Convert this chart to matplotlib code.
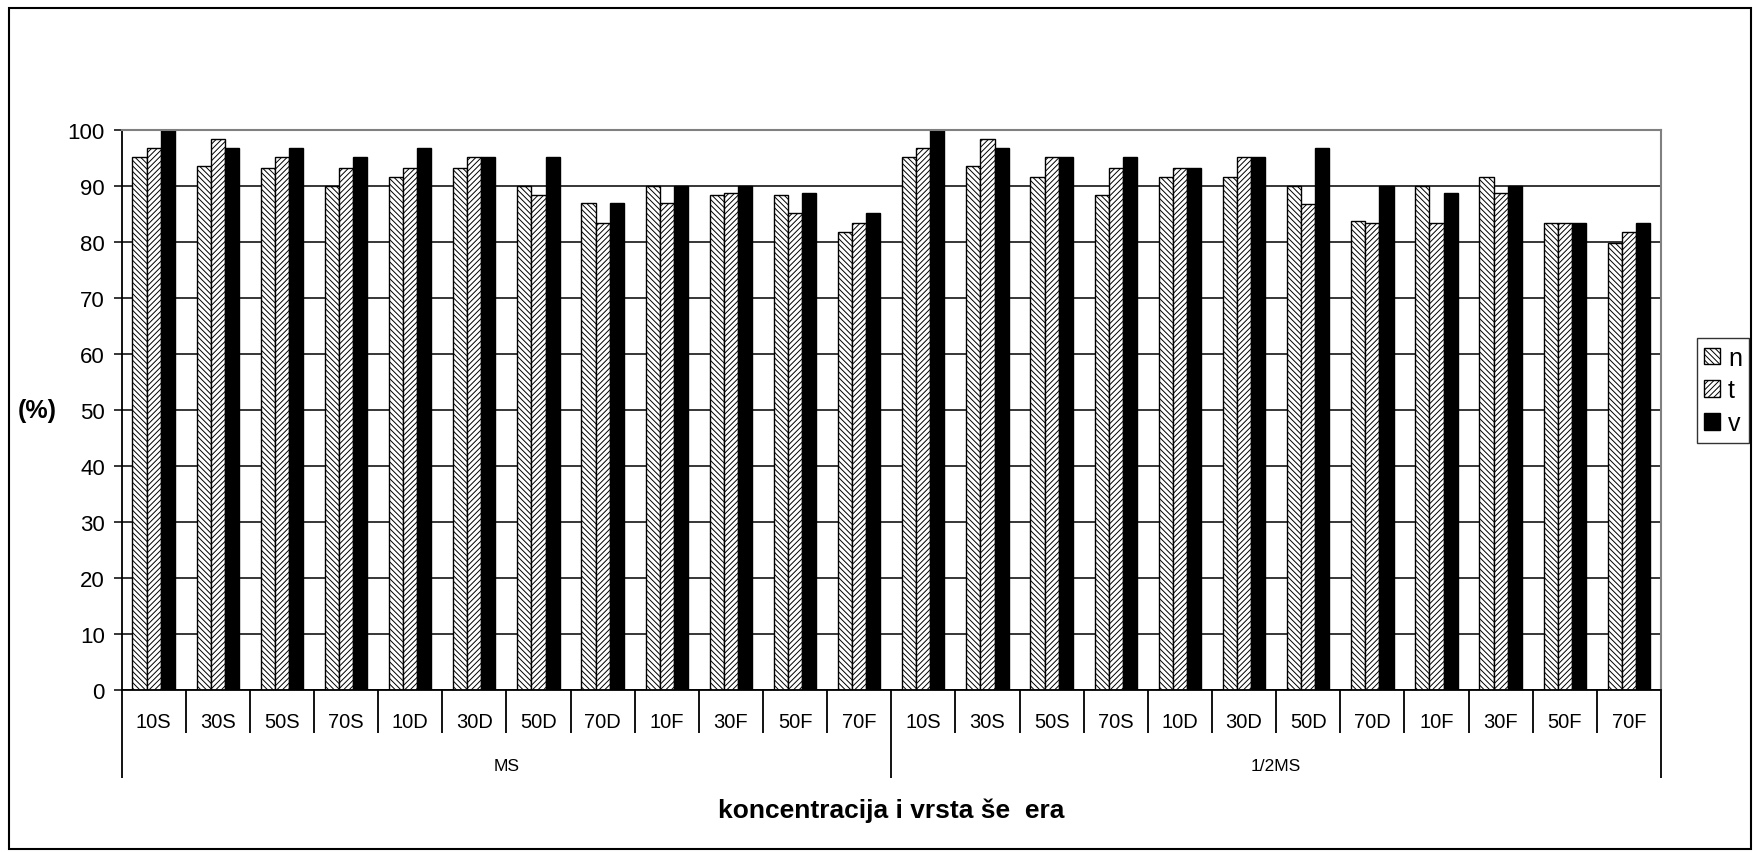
import numpy as np
import matplotlib.pyplot as plt
from matplotlib.patches import Rectangle

plt.rcParams['font.family'] = ['Liberation Sans', 'DejaVu Sans']
plt.rcParams['hatch.linewidth'] = 0.7

# data
categories = ['10S', '30S', '50S', '70S', '10D', '30D', '50D', '70D', '10F', '30F', '50F', '70F']
groups = ['MS', '1/2MS']

n_vals = [95.2, 93.5, 93.2, 90.0, 91.5, 93.2, 90.0, 87.0, 90.0, 88.3, 88.3, 81.8,
          95.2, 93.5, 91.5, 88.3, 91.5, 91.5, 90.0, 83.7, 90.0, 91.5, 83.4, 79.8]
t_vals = [96.7, 98.3, 95.2, 93.2, 93.2, 95.2, 88.3, 83.4, 87.0, 88.7, 85.1, 83.4,
          96.7, 98.3, 95.2, 93.2, 93.2, 95.2, 86.7, 83.4, 83.4, 88.7, 83.4, 81.8]
v_vals = [100.0, 96.8, 96.8, 95.2, 96.8, 95.2, 95.2, 87.0, 90.0, 90.0, 88.7, 85.1,
          100.0, 96.8, 95.2, 95.2, 93.2, 95.2, 96.8, 90.0, 88.7, 90.0, 83.4, 83.4]
series_names = ['n', 't', 'v']

labels = categories * len(groups)
x = np.arange(len(labels)) + 0.5
w = 0.22

fig = plt.figure(figsize=(17.53, 8.53), dpi=100)
ax = fig.add_axes([121.5 / 1753, 1 - 691 / 853, (1661 - 121.5) / 1753, (691 - 130.7) / 853])

ax.set_axisbelow(True)
ax.yaxis.grid(True, color='black', linewidth=1.1)

ax.bar(x - w, n_vals, w, facecolor='white', edgecolor='black', hatch='\\\\\\\\\\\\', linewidth=1.0, label=series_names[0])
ax.bar(x, t_vals, w, facecolor='white', edgecolor='black', hatch='//////', linewidth=1.0, label=series_names[1])
ax.bar(x + w, v_vals, w, facecolor='black', edgecolor='black', linewidth=1.0, label=series_names[2])

ax.set_xlim(0, len(labels))
ax.set_ylim(0, 100)
ax.set_yticks(np.arange(0, 101, 10))
ax.tick_params(axis='y', labelsize=16, length=6, width=1.1, direction='out', pad=6)

# category separators as ticks, group separators longer
ax.set_xticks([0, 12, 24])
ax.set_xticks(np.arange(0, 25), minor=True)
ax.set_xticklabels([])
ax.tick_params(axis='x', which='major', length=63, width=1.3, direction='out')
ax.tick_params(axis='x', which='minor', length=31, width=1.3, direction='out')

for xi, lab in zip(x, labels):
    ax.text(xi, -0.0566, lab, transform=ax.get_xaxis_transform(), ha='center', va='center', fontsize=14.5)
for gi, g in enumerate(groups):
    ax.text(gi * 12 + 6, -0.1356, g, transform=ax.get_xaxis_transform(), ha='center', va='center', fontsize=12.5)

for s in ['top', 'right']:
    ax.spines[s].set_color('#808080')
    ax.spines[s].set_linewidth(1.5)
ax.spines['left'].set_linewidth(1.3)
ax.spines['bottom'].set_linewidth(1.3)

fig.text((121.5 + 1661) / 2 / 1753, 1 - 811 / 853, 'koncentracija i vrsta še  era',
         ha='center', va='center', fontsize=19, fontweight='bold')
fig.text(37 / 1753, 1 - 411 / 853, '(%)', ha='center', va='center', fontsize=18, fontweight='bold')

leg = fig.legend(loc='center', bbox_to_anchor=(1723 / 1753, 1 - 391.5 / 853), fontsize=18,
                 handlelength=0.65, handleheight=0.65, handletextpad=0.3, labelspacing=0.35,
                 borderpad=0.3, borderaxespad=0, fancybox=False, frameon=True)
leg.get_frame().set_edgecolor('black')
leg.get_frame().set_linewidth(1.0)

fig.patches.append(Rectangle((9 / 1753, 3 / 853), (1751 - 9) / 1753, (844 - 3) / 853,
                             transform=fig.transFigure, fill=False, edgecolor='black', linewidth=1.5))

fig.savefig('out.png', dpi=100)
